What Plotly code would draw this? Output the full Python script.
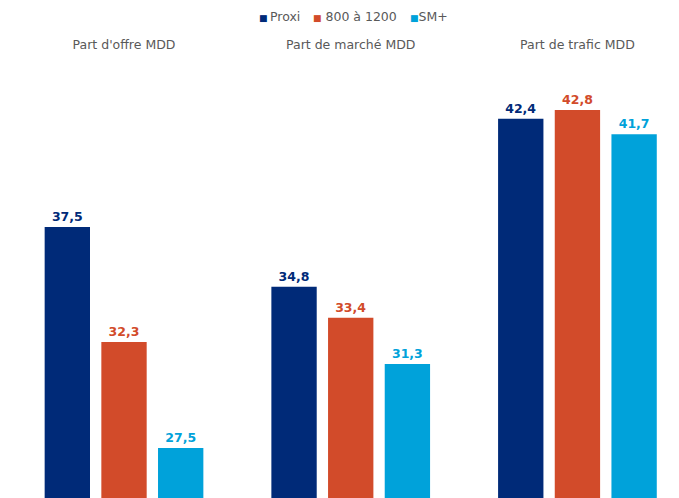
import plotly.graph_objects as go

categories = ["Part d'offre MDD", "Part de marché MDD", "Part de trafic MDD"]
series_names = ["Proxi", "800 à 1200", "SM+"]
proxi = [37.5, 34.8, 42.4]
moyen = [32.3, 33.4, 42.8]
smplus = [27.5, 31.3, 41.7]
colors = ["#002a78", "#d24b2a", "#00a2da"]
legend_x_px = [257, 311, 408]
legend_sep = ["\u2009", " ", ""]

W, H = 679, 498
T = 60
fig = go.Figure()
for name, vals, col in zip(series_names, [proxi, moyen, smplus], colors):
    fig.add_trace(go.Bar(
        x=categories, y=vals, name=name,
        marker=dict(color=col, line=dict(width=0)),
        text=[f"<b>{v:.1f}</b>".replace(".", ",") for v in vals],
        textposition="outside",
        textfont=dict(color=col, size=12.5, family="DejaVu Sans"),
        cliponaxis=False,
        showlegend=False,
    ))

for name, col, xp, sep in zip(series_names, colors, legend_x_px, legend_sep):
    fig.add_annotation(
        xref="paper", yref="paper", x=xp / W, y=(H - 17) / (H - T),
        xanchor="left", yanchor="middle", showarrow=False,
        text=f"<span style='color:{col};font-size:9px'>■</span>{sep}{name}",
        font=dict(family="DejaVu Sans", size=12.5, color="#595959"),
    )

fig.update_layout(
    width=W, height=H,
    barmode="group", bargap=0.25, bargroupgap=0.2,
    plot_bgcolor="white", paper_bgcolor="white",
    margin=dict(l=0, r=0, t=T, b=0),
    font=dict(family="DejaVu Sans", size=12.5, color="#595959"),
    showlegend=False,
    xaxis=dict(side="top", range=[-0.547, 2.448], showline=False, showgrid=False, ticks="",
               tickfont=dict(size=12.5, color="#595959"), ticklabelstandoff=8),
    yaxis=dict(range=[25.24, 45.06], visible=False),
)

fig.write_html("out.html")
